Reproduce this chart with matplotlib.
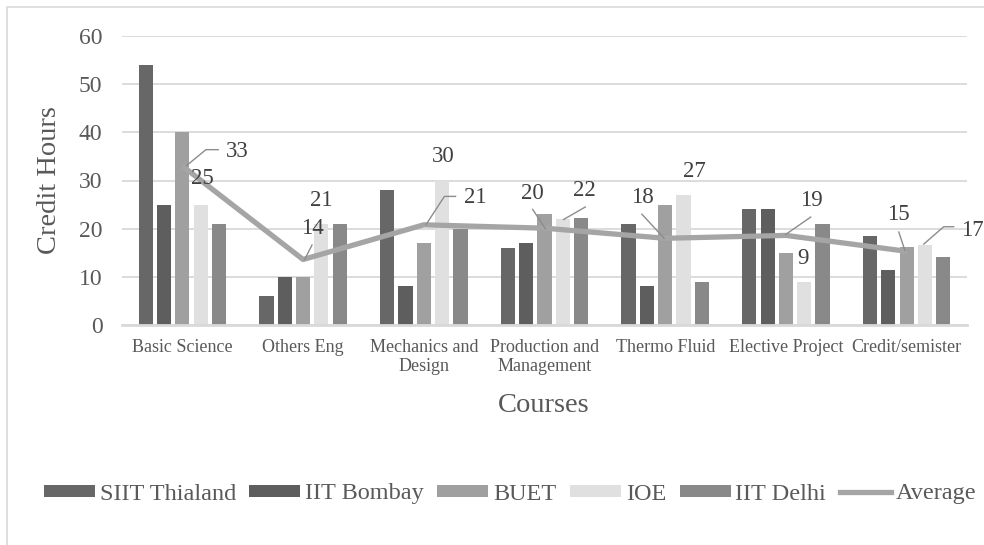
import matplotlib.pyplot as plt
from matplotlib.patches import Rectangle, Patch
from matplotlib.lines import Line2D
import numpy as np

plt.rcParams['font.family'] = ['Liberation Serif', 'DejaVu Serif']

# --- DATA ---
courses = ["Basic Science", "Others Eng", "Mechanics and\nDesign", "Production and\nManagement",
           "Thermo Fluid", "Elective Project", "Credit/semister"]
siit = [54, 6, 28, 16, 21, 24, 18.4]
iit_bombay = [25, 10, 8, 17, 8, 24, 11.4]
buet = [40, 10, 17, 23, 25, 15, 16.1]
ioe = [25, 21, 30, 22, 27, 9, 16.6]
iit_delhi = [21, 21, 20, 22.3, 9, 21, 14.1]
average = [33, 13.6, 20.8, 20.1, 18, 18.6, 15.3]

series_names = ["SIIT Thialand", "IIT Bombay", "BUET", "IOE", "IIT Delhi"]
series_colors = ["#676767", "#5e5e5e", "#a0a0a0", "#e0e0e0", "#898989"]
avg_color = "#a5a5a5"
grid_color = "#d9d9d9"
text_color = "#595959"
label_color = "#404040"

# label placement (Excel-style, moved labels with leader lines)
avg_label_pos = [(0.36, 36.0, 'left'), (1.077, 20.0, 'center'), (2.33, 26.4, 'left'),
                 (2.902, 27.4, 'center'), (3.812, 26.4, 'center'), (5.213, 25.9, 'center'),
                 (5.935, 22.9, 'center')]
ioe_label_pos = [(0.167, 30.5, 'center'), (1.152, 25.9, 'center'), (2.163, 35.0, 'center'),
                 (3.33, 27.9, 'center'), (4.24, 31.9, 'center'), (5.14, 13.8, 'center'),
                 (6.45, 19.7, 'left')]
leaders = [
    [(0.035, 33.1), (0.195, 36.4), (0.297, 36.4)],
    [(1.013, 13.6), (1.074, 16.6)],
    [(2.02, 20.9), (2.171, 26.7), (2.263, 26.7)],
    [(2.902, 24.0), (3.007, 20.0)],
    [(3.158, 21.9), (3.338, 24.5)],
    [(3.807, 23.0), (3.991, 18.0)],
    [(5.205, 22.4), (4.998, 18.8)],
    [(5.935, 19.3), (5.985, 15.5)],
    [(6.142, 16.8), (6.307, 20.4), (6.39, 20.4)],
]

fig = plt.figure(figsize=(9.84, 5.45), dpi=100)
ax = fig.add_axes([122 / 984, 1 - 325 / 545, 845 / 984, 289 / 545])

x = np.arange(len(courses))
pitch = 0.1516
width = 0.118
all_series = [siit, iit_bombay, buet, ioe, iit_delhi]
for j, (vals, col) in enumerate(zip(all_series, series_colors)):
    ax.bar(x + (j - 2) * pitch, vals, width=width, color=col, zorder=2)

ax.plot(x, average, color=avg_color, linewidth=3.8, zorder=3, solid_capstyle='butt')

# leader lines and data labels
for pts in leaders:
    xs, ys = zip(*pts)
    ax.plot(xs, ys, color="#8c8c8c", linewidth=1.0, zorder=4)
for v, (lx, ly, ha) in zip(average, avg_label_pos):
    ax.text(lx, ly, f"{v:.0f}", ha=ha, va='center', fontsize=16.5, color=label_color, zorder=5)
for v, (lx, ly, ha) in zip(ioe, ioe_label_pos):
    ax.text(lx, ly, f"{v:.0f}", ha=ha, va='center', fontsize=16.5, color=label_color, zorder=5)

ax.set_xlim(-0.5, len(courses) - 0.5)
ax.set_ylim(0, 60)
ax.set_yticks(range(0, 61, 10))
ax.set_xticks(x)
ax.set_xticklabels(courses, fontsize=13, color=text_color, linespacing=1.15)
ax.tick_params(axis='y', length=0, pad=14, labelsize=17, labelcolor=text_color)
ax.tick_params(axis='x', length=0, pad=10)
ax.grid(axis='y', color=grid_color, linewidth=1.3, zorder=0)
ax.set_axisbelow(True)
for s in ['top', 'right', 'left']:
    ax.spines[s].set_visible(False)
ax.spines['bottom'].set_color(grid_color)
ax.spines['bottom'].set_linewidth(2)

fig.text(50 / 984, 1 - 180 / 545, "Credit Hours", rotation=90, ha='center', va='center',
         fontsize=20.5, color=text_color)
fig.text(544 / 984, 1 - 405 / 545, "Courses", ha='center', va='center',
         fontsize=20.5, color=text_color)

handles = [Patch(facecolor=c, edgecolor='none') for c in series_colors]
handles.append(Line2D([0], [0], color=avg_color, linewidth=3.8))
leg = fig.legend(handles, series_names + ["Average"], loc='center', bbox_to_anchor=(510 / 984, 1 - 494 / 545),
                 ncol=6, frameon=False, fontsize=17.5, handlelength=2.1, handleheight=0.4,
                 handletextpad=0.2, columnspacing=0.55, borderpad=0)
for t in leg.get_texts():
    t.set_color(text_color)

fig.patches.append(Rectangle((7 / 984, -0.1), 1.2, 1 - 7 / 545 + 0.1, transform=fig.transFigure,
                             fill=False, edgecolor=grid_color, linewidth=1.2))

fig.savefig("out.png", dpi=100)
